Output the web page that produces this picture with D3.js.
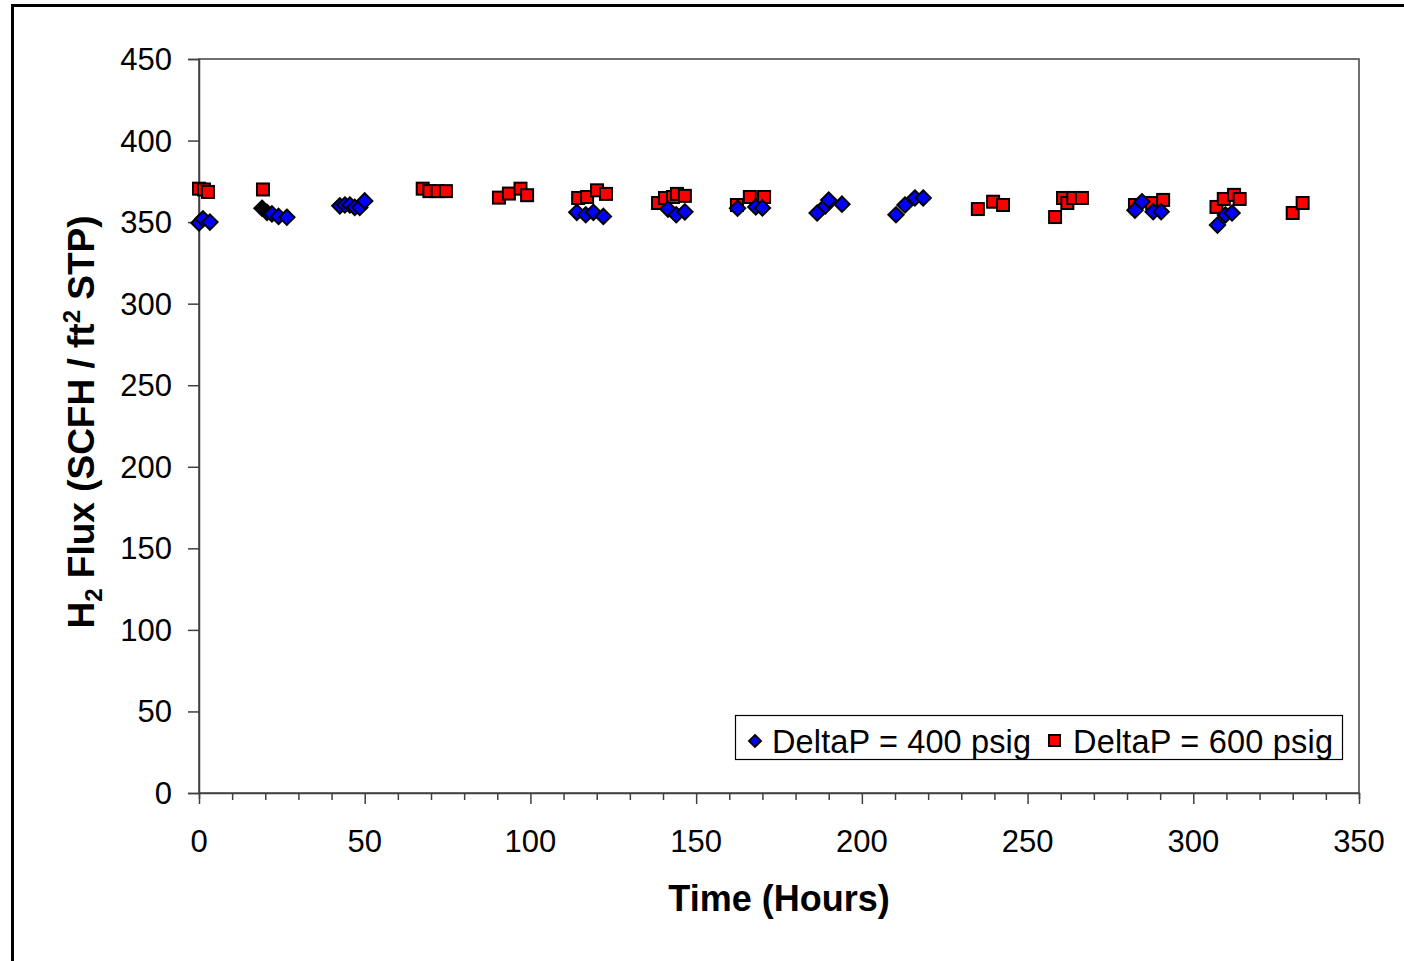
<!DOCTYPE html>
<html><head><meta charset="utf-8">
<script src="https://cdn.jsdelivr.net/npm/d3@7"></script>
<style>body{margin:0;background:#fff;} text{font-family:"Liberation Sans",Arial,sans-serif;}</style>
</head><body>
<svg id="c" width="1404" height="961"></svg>
<script>
// Data (hours, flux)
const series400X = [0,1.2,3.3, 20.5,22,24,26.5, 42.5,44,45.5,47,48.5,50, 114,116.7,119,122, 141.5,144,146.6, 162.5,168,170, 186.5,189,190,194, 210.3,213,216,218.5, 282.4,284.5,287.9,290.3, 307.3,309.7,311.7];
const series400Y = [349.5,352,350, 356,355,353.5,353, 360,360.5,360.5,359,359,363, 356,354.5,356,353.5, 358,354.5,356.3, 358.5,359.3,358.7, 355.6,360,363.5,361, 354.5,360.5,364.8,364.8, 357.3,362.5,356.4,356.4, 348.2,354.4,355.6];
const seriesDarkX = [19];
const seriesDarkY = [358.5];
const series600X = [0,1.5,2.7, 19.3, 67.5,69.5,72,74.5, 90.5,93.5,97,99, 114.4,117.1,120.1,122.8, 138.5,140.6,143,144.2,146.6, 162.3,166.2,170.5, 235,239.6,242.6, 258.3,260.7,262,263.8,266.4, 282.4,287.6,290.9, 307,309.2,312.3,314, 330,333];
const series600Y = [370.5,370,368.5, 370, 370.5,369,369,369, 365,367.5,370.5,366.5, 364.8,365.4,369.5,367.3, 361.7,364.8,365.4,367.3,366.1, 360.5,365.4,365.4, 358,362.5,360.5, 353.1,364.8,361.7,364.8,364.8, 360.5,361.7,363.6, 359.3,364.2,366.7,364.2, 355.6,361.7];
const xTicks = [0,50,100,150,200,250,300,350];
const yTicks = [0,50,100,150,200,250,300,350,400,450];
const legendLabels = ["DeltaP = 400 psig","DeltaP = 600 psig"];

const svg = d3.select("#c");
// outer frame
svg.append("rect").attr("x",12.5).attr("y",5.5).attr("width",1500).attr("height",1000)
  .attr("fill","none").attr("stroke","#000").attr("stroke-width",3);

const L=199,R=1359,T=59,B=793;
const x = d3.scaleLinear().domain([0,350]).range([L,R]);
const y = d3.scaleLinear().domain([0,450]).range([B,T]);

// plot border
svg.append("rect").attr("x",L).attr("y",T).attr("width",R-L).attr("height",B-T)
  .attr("fill","none").attr("stroke","#404040").attr("stroke-width",1.5);

// x axis
const xa = svg.append("g").attr("transform",`translate(0,${B})`)
  .call(d3.axisBottom(x).tickValues(d3.range(0,351,10)).tickSize(6).tickFormat(""));
xa.select(".domain").attr("stroke","#404040").attr("stroke-width",1.5);
xa.selectAll(".tick line").attr("stroke","#404040").attr("stroke-width",1.5)
  .attr("y2",d=>d%50===0?11:7);
svg.append("g").selectAll("text").data(xTicks).join("text")
  .attr("x",d=>x(d)).attr("y",852).attr("text-anchor","middle")
  .attr("font-size",31).text(d=>d);

// y axis
const ya = svg.append("g").attr("transform",`translate(${L},0)`)
  .call(d3.axisLeft(y).tickValues(yTicks).tickSize(11).tickFormat(""));
ya.select(".domain").attr("stroke","#404040").attr("stroke-width",1.5);
ya.selectAll(".tick line").attr("stroke","#404040").attr("stroke-width",1.5);
svg.append("g").selectAll("text").data(yTicks).join("text")
  .attr("x",172).attr("y",d=>y(d)+11).attr("text-anchor","end")
  .attr("font-size",31).text(d=>d);

// titles
svg.append("text").attr("x",779).attr("y",911).attr("text-anchor","middle")
  .attr("font-size",36).attr("font-weight","bold").text("Time (Hours)");
const yt = svg.append("text").attr("transform","translate(94,422) rotate(-90)")
  .attr("text-anchor","middle").attr("font-size",37).attr("font-weight","bold");
yt.append("tspan").text("H");
yt.append("tspan").attr("font-size",24).attr("dy",8).text("2");
yt.append("tspan").attr("dy",-8).text(" Flux (SCFH / ft");
yt.append("tspan").attr("font-size",24).attr("dy",-14).text("2");
yt.append("tspan").attr("dy",14).text(" STP)");

// markers
const diamond = d3.symbol().type(d3.symbolDiamond2).size(150);
const g = svg.append("g");
g.selectAll(".s600").data(d3.zip(series600X,series600Y)).join("rect")
  .attr("x",d=>x(d[0])-6).attr("y",d=>y(d[1])-6).attr("width",12).attr("height",12)
  .attr("fill","#ff0000").attr("stroke","#000").attr("stroke-width",2);
g.selectAll(".s400").data(d3.zip(series400X,series400Y)).join("path")
  .attr("d",diamond).attr("transform",d=>`translate(${x(d[0])},${y(d[1])})`)
  .attr("fill","#0000ff").attr("stroke","#000").attr("stroke-width",2);
g.selectAll(".sdk").data(d3.zip(seriesDarkX,seriesDarkY)).join("path")
  .attr("d",diamond).attr("transform",d=>`translate(${x(d[0])},${y(d[1])})`)
  .attr("fill","#000").attr("stroke","#000").attr("stroke-width",2);

// legend
svg.append("rect").attr("x",735.5).attr("y",715.5).attr("width",607).attr("height",44)
  .attr("fill","#fff").attr("stroke","#000").attr("stroke-width",1.2);
svg.append("path").attr("d",d3.symbol().type(d3.symbolDiamond2).size(90))
  .attr("transform","translate(755,741)").attr("fill","#0000ff").attr("stroke","#000").attr("stroke-width",2);
svg.append("text").attr("x",772).attr("y",753).attr("font-size",32.5).attr("textLength",259).text(legendLabels[0]);
svg.append("rect").attr("x",1049).attr("y",735).attr("width",11).attr("height",11)
  .attr("fill","#ff0000").attr("stroke","#000").attr("stroke-width",2);
svg.append("text").attr("x",1073).attr("y",753).attr("font-size",32.5).attr("textLength",260).text(legendLabels[1]);
</script>
</body></html>
